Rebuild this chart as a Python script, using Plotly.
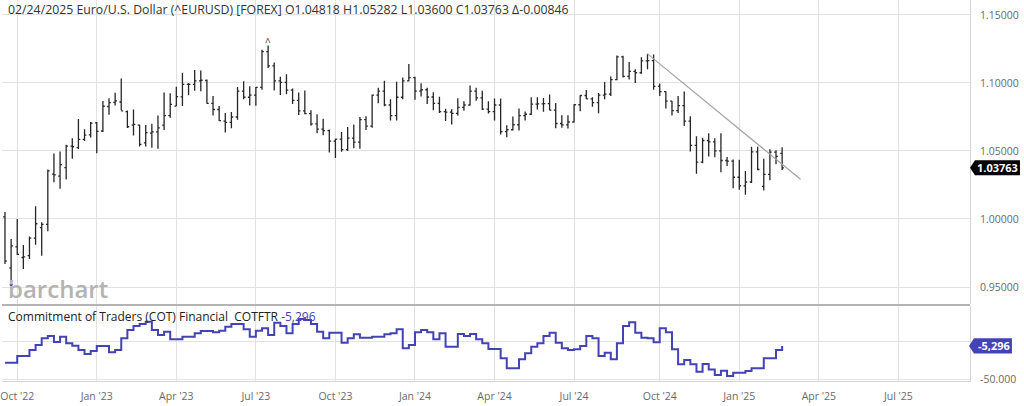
import plotly.graph_objects as go
import pandas as pd

# ---------------- data (weekly bars, week starting Monday) ----------------
first_week = "2022-09-19"

opens = [1.0016, 0.9640, 0.9795, 0.9717, 0.9730, 0.9860, 0.9937, 0.9960, 1.0330, 1.0315,
         1.0378, 1.0535, 1.0525, 1.0586, 1.0619, 1.0707, 1.0647, 1.0827, 1.0858, 1.0860,
         1.0790, 1.0690, 1.0690, 1.0560, 1.0632, 1.0640, 1.0690, 1.0760, 1.0830, 1.0898,
         1.0990, 1.0990, 1.1015, 1.1018, 1.0850, 1.0805, 1.0720, 1.0710, 1.0750, 1.0940,
         1.0895, 1.0910, 1.0967, 1.1230, 1.1125, 1.1015, 1.1005, 1.0948, 1.0872, 1.0795,
         1.0775, 1.0700, 1.0660, 1.0650, 1.0573, 1.0587, 1.0510, 1.0595, 1.0565, 1.0730,
         1.0683, 1.0910, 1.0940, 1.0838, 1.0760, 1.0895, 1.1015, 1.1039, 1.0940, 1.0950,
         1.0897, 1.0850, 1.0790, 1.0785, 1.0776, 1.0820, 1.0838, 1.0940, 1.0890, 1.0808,
         1.0790, 1.0838, 1.0642, 1.0656, 1.0693, 1.0760, 1.0770, 1.0845, 1.0847, 1.0848,
         1.0801, 1.0702, 1.0692, 1.0713, 1.0840, 1.0908, 1.0883, 1.0855, 1.0910, 1.0918,
         1.1025, 1.1192, 1.1048, 1.1085, 1.1075, 1.1163, 1.1165, 1.0975, 1.0937, 1.0866,
         1.0797, 1.0833, 1.0720, 1.0541, 1.0418, 1.0577, 1.0567, 1.0501, 1.0430, 1.0425,
         1.0307, 1.0244, 1.0272, 1.0494, 1.0240, 1.0328, 1.0492, 1.04818]
highs = [1.0051, 0.9853, 0.9999, 0.9809, 0.9872, 1.0094, 0.9976, 1.0364, 1.0481, 1.0497,
         1.0545, 1.0594, 1.0736, 1.0659, 1.0713, 1.0713, 1.0868, 1.0887, 1.0929, 1.1033,
         1.0797, 1.0805, 1.0695, 1.0691, 1.0700, 1.0760, 1.0930, 1.0925, 1.0973, 1.1075,
         1.1000, 1.1095, 1.1092, 1.1025, 1.0904, 1.0830, 1.0780, 1.0787, 1.0970, 1.1012,
         1.0975, 1.0970, 1.1245, 1.1276, 1.1150, 1.1045, 1.1064, 1.0960, 1.0930, 1.0945,
         1.0800, 1.0770, 1.0737, 1.0658, 1.0590, 1.0640, 1.0677, 1.0695, 1.0750, 1.0755,
         1.0915, 1.0965, 1.1017, 1.0880, 1.1009, 1.1040, 1.1139, 1.1045, 1.0998, 1.0965,
         1.0932, 1.0898, 1.0811, 1.0806, 1.0888, 1.0865, 1.0982, 1.0965, 1.0942, 1.0865,
         1.0885, 1.0885, 1.0690, 1.0753, 1.0812, 1.0790, 1.0895, 1.0895, 1.0890, 1.0916,
         1.0852, 1.0762, 1.0762, 1.0844, 1.0910, 1.0948, 1.0895, 1.0927, 1.1008, 1.1048,
         1.1202, 1.1200, 1.1155, 1.1100, 1.1190, 1.1214, 1.1210, 1.0996, 1.0940, 1.0868,
         1.0905, 1.0937, 1.0755, 1.0609, 1.0597, 1.0630, 1.0594, 1.0630, 1.0456, 1.0437,
         1.0436, 1.0353, 1.0532, 1.0532, 1.0442, 1.0513, 1.0505, 1.05282]
lows = [0.9669, 0.9536, 0.9735, 0.9632, 0.9705, 0.9810, 0.9730, 0.9910, 1.0270, 1.0223,
        1.0290, 1.0443, 1.0515, 1.0573, 1.0600, 1.0483, 1.0640, 1.0766, 1.0835, 1.0800,
        1.0669, 1.0613, 1.0533, 1.0533, 1.0524, 1.0516, 1.0655, 1.0745, 1.0830, 1.0830,
        1.0910, 1.0943, 1.0940, 1.0847, 1.0760, 1.0720, 1.0635, 1.0667, 1.0730, 1.0880,
        1.0835, 1.0833, 1.0950, 1.1110, 1.0944, 1.0912, 1.0917, 1.0845, 1.0765, 1.0770,
        1.0686, 1.0631, 1.0615, 1.0488, 1.0448, 1.0495, 1.0500, 1.0520, 1.0516, 1.0655,
        1.0670, 1.0850, 1.0829, 1.0724, 1.0725, 1.0880, 1.1013, 1.0877, 1.0900, 1.0845,
        1.0800, 1.0780, 1.0720, 1.0695, 1.0760, 1.0795, 1.0835, 1.0870, 1.0802, 1.0775,
        1.0725, 1.0622, 1.0601, 1.0651, 1.0650, 1.0725, 1.0765, 1.0805, 1.0788, 1.0800,
        1.0668, 1.0670, 1.0666, 1.0710, 1.0792, 1.0882, 1.0825, 1.0777, 1.0880, 1.0905,
        1.1020, 1.1040, 1.1025, 1.1000, 1.1068, 1.1100, 1.0950, 1.0905, 1.0812, 1.0760,
        1.0780, 1.0683, 1.0497, 1.0333, 1.0410, 1.0460, 1.0453, 1.0343, 1.0389, 1.0226,
        1.0215, 1.0178, 1.0265, 1.0359, 1.0210, 1.0285, 1.0402, 1.03600]
closes = [0.9690, 0.9802, 0.9740, 0.9722, 0.9860, 0.9965, 0.9960, 1.0354, 1.0325, 1.0400,
          1.0535, 1.0531, 1.0585, 1.0616, 1.0705, 1.0644, 1.0829, 1.0856, 1.0868, 1.0795,
          1.0678, 1.0695, 1.0548, 1.0635, 1.0640, 1.0670, 1.0760, 1.0842, 1.0900, 1.0990,
          1.0990, 1.1015, 1.1020, 1.0850, 1.0805, 1.0723, 1.0710, 1.0750, 1.0940, 1.0895,
          1.0910, 1.0967, 1.1230, 1.1125, 1.1015, 1.1005, 1.0948, 1.0872, 1.0795, 1.0775,
          1.0700, 1.0660, 1.0650, 1.0573, 1.0587, 1.0510, 1.0595, 1.0565, 1.0730, 1.0683,
          1.0910, 1.0940, 1.0838, 1.0760, 1.0895, 1.1015, 1.1039, 1.0940, 1.0950, 1.0897,
          1.0850, 1.0790, 1.0785, 1.0776, 1.0820, 1.0838, 1.0940, 1.0890, 1.0808, 1.0790,
          1.0838, 1.0642, 1.0656, 1.0693, 1.0760, 1.0770, 1.0845, 1.0847, 1.0848, 1.0801,
          1.0702, 1.0692, 1.0713, 1.0840, 1.0908, 1.0883, 1.0855, 1.0910, 1.0918, 1.1025,
          1.1192, 1.1048, 1.1085, 1.1075, 1.1163, 1.1165, 1.0975, 1.0937, 1.0866, 1.0797,
          1.0833, 1.0720, 1.0541, 1.0418, 1.0577, 1.0567, 1.0501, 1.0430, 1.0425, 1.0307,
          1.0244, 1.0272, 1.0494, 1.0364, 1.0328, 1.0492, 1.0460, 1.03763]

cot_net = [-28000, -28000, -19000, -19000, -10800, -4000, 5000, 8100, 0, 7200,
           -1800, -5000, -10800, -16200, -12200, -5400, -5400, -14000, -10800, 5000,
           16200, 21600, 24300, 27500, 16200, 9500, 14000, 3600, 3600, 7200,
           7200, 11700, 14900, 14900, 13100, 15300, 20700, 24300, 24300, 17100,
           7200, 15300, 18500, 9500, 26100, 21600, 11700, 24300, 31100, 29700,
           24300, 14000, 5000, 12600, 12600, -900, 5000, 10400, 5800, 5800,
           7200, 7200, 10400, 11700, 17100, -8500, -4000, 13100, 16200, 13100,
           3600, 11700, -6300, -6300, 10800, 8100, 10800, 3600, -1800, -9500,
           -9500, -22000, -35500, -35500, -23400, -15300, -6300, -1800, 8100, 12600,
           -900, -8500, -10800, -9900, -5400, 8100, 5000, -18900, -14500, -23400,
           -1800, 21600, 26600, 12600, 5800, 5000, -400, 18500, 13100, -9900,
           -30100, -24300, -30100, -40100, -29700, -37000, -44600, -38800, -45900, -41500,
           -41500, -39200, -35500, -35500, -22000, -22000, -10800, -5296]

trend_dates = ["2024-09-23", "2025-03-17"]
trend_values = [1.1214, 1.0292]

price_ticks = [0.95, 1.00, 1.05, 1.10, 1.15]
cot_ticks = [-50000, 0]
cot_tick_text = ["-50.000", ""]
quarter_labels = ["Oct '22", "Jan '23", "Apr '23", "Jul '23", "Oct '23", "Jan '24",
                  "Apr '24", "Jul '24", "Oct '24", "Jan '25", "Apr '25", "Jul '25"]
quarter_months = ["2022-10", "2023-01", "2023-04", "2023-07", "2023-10", "2024-01",
                  "2024-04", "2024-07", "2024-10", "2025-01", "2025-04", "2025-07"]

header = ("02/24/2025 Euro/U.S. Dollar (^EURUSD) [FOREX] O1.04818 H1.05282 "
          "L1.03600 C1.03763 \u0394-0.00846")
cot_title = "Commitment of Traders (COT) Financial\u00a0 COTFTR "
cot_last_text = "-5,296"

# ---------------- styling ----------------
FONT = "Open Sans"
COT_COLOR = "#4343b6"
GRID = "#e2e2e2"
AXIS_LINE = "#d6d6d6"
LABEL = "#6a6a6a"

dates = pd.date_range(first_week, periods=len(opens), freq="7D")

# first Monday of each quarter month -> tick positions (barchart style)
tick_dates = []
for m in quarter_months:
    d = pd.Timestamp(m + "-01")
    while d.weekday() != 0:
        d += pd.Timedelta(days=1)
    tick_dates.append(d)

price_range = [0.9375, 1.161]
cot_range = [-52700, 48650]
price_dom = [0.2021, 1.0]
cot_dom = [0.0, 0.1969]

fig = go.Figure()

fig.add_trace(go.Ohlc(
    x=dates, open=opens, high=highs, low=lows, close=closes,
    increasing=dict(line=dict(color="#262626", width=1.3)),
    decreasing=dict(line=dict(color="#262626", width=1.3)),
    tickwidth=0.3, xaxis="x", yaxis="y", hoverinfo="skip", showlegend=False))

fig.add_trace(go.Scatter(
    x=trend_dates, y=trend_values, mode="lines",
    line=dict(color="#a3a3a3", width=1.2), xaxis="x", yaxis="y",
    hoverinfo="skip", showlegend=False))

fig.add_trace(go.Scatter(
    x=dates, y=cot_net, mode="lines", line_shape="hv",
    line=dict(color=COT_COLOR, width=2), xaxis="x", yaxis="y2",
    hoverinfo="skip", showlegend=False))

fig.update_layout(
    width=1024, height=406,
    margin=dict(l=0, r=54, t=0, b=25),
    paper_bgcolor="white", plot_bgcolor="white",
    font=dict(family=FONT, color=LABEL, size=10.5),
    showlegend=False,
    xaxis=dict(
        domain=[0, 1], anchor="y2",
        range=["2022-09-15 14:00", "2025-09-26 22:00"],
        tickmode="array", tickvals=tick_dates, ticktext=quarter_labels,
        showgrid=True, gridcolor=GRID, gridwidth=1,
        ticks="outside", ticklen=5, tickcolor="rgba(0,0,0,0)",
        showline=True, linecolor=AXIS_LINE, linewidth=1,
        zeroline=False, ticklabeloverflow="allow",
        rangeslider=dict(visible=False),
        tickfont=dict(size=10.5, color=LABEL, family=FONT)),
    yaxis=dict(
        domain=price_dom, anchor="x", side="right", range=price_range,
        tickmode="array", tickvals=price_ticks, tickformat=".5f",
        showgrid=True, gridcolor=GRID, zeroline=False,
        ticks="outside", ticklen=7, tickcolor="rgba(0,0,0,0)",
        showline=True, linecolor=AXIS_LINE, linewidth=1,
        tickfont=dict(size=10.5, color=LABEL, family=FONT)),
    yaxis2=dict(
        domain=cot_dom, anchor="x", side="right", range=cot_range,
        tickmode="array", tickvals=cot_ticks, ticktext=cot_tick_text,
        showgrid=True, gridcolor=GRID, zeroline=False,
        ticks="outside", ticklen=7, tickcolor="rgba(0,0,0,0)",
        showline=True, linecolor=AXIS_LINE, linewidth=1,
        tickfont=dict(size=10.5, color=LABEL, family=FONT)),
)

# pane separator
fig.add_shape(type="line", xref="paper", yref="paper", x0=0, x1=1,
              y0=0.1995, y1=0.1995, line=dict(color="#b4b4b4", width=2))

# last-value tags on the right axis
last_close = closes[-1]
h = 0.0055
fig.add_shape(type="path", xref="paper", yref="y",
              path=(f"M 1.0,{last_close} L 1.00515,{last_close + h} L 1.0516,{last_close + h} "
                    f"L 1.0516,{last_close - h} L 1.00515,{last_close - h} Z"),
              fillcolor="#000000", line=dict(width=0))
fig.add_annotation(xref="paper", yref="y", x=1.0284, y=last_close,
                   text=f"{last_close:.5f}", showarrow=False, xanchor="center",
                   yanchor="middle",
                   font=dict(family=FONT, size=11, color="white", weight="bold"))

last_cot = cot_net[-1]
hc = 10400
fig.add_shape(type="path", xref="paper", yref="y2",
              path=(f"M 0.999,{last_cot} L 1.0041,{last_cot + hc} L 1.0433,{last_cot + hc} "
                    f"L 1.0433,{last_cot - hc} L 1.0041,{last_cot - hc} Z"),
              fillcolor=COT_COLOR, line=dict(width=0))
fig.add_annotation(xref="paper", yref="y2", x=1.0247, y=last_cot,
                   text=cot_last_text, showarrow=False, xanchor="center",
                   yanchor="middle",
                   font=dict(family=FONT, size=11, color="white", weight="bold"))

# header texts
fig.add_annotation(xref="paper", yref="paper", x=0.0041, y=0.9738, text=header,
                   showarrow=False, xanchor="left", yanchor="middle",
                   font=dict(family=FONT, size=12.3, color="#333333"))
fig.add_annotation(xref="paper", yref="paper", x=0.0041, y=0.1706,
                   text=cot_title + f"<span style='color:{COT_COLOR}'>{cot_last_text}</span>",
                   showarrow=False, xanchor="left", yanchor="middle",
                   font=dict(family=FONT, size=12, color="#222222"))

# watermark
fig.add_annotation(xref="paper", yref="paper", x=0.004, y=0.2415, text="barchart",
                   showarrow=False, xanchor="left", yanchor="middle",
                   font=dict(family=FONT, size=24, color="#b3b3b3", weight=600))

# highest-high / lowest-low markers
imax = highs.index(max(highs))
fig.add_annotation(xref="x", yref="y", x=dates[imax], y=highs[imax], text="^",
                   showarrow=False, xanchor="center", yanchor="bottom", yshift=-6,
                   font=dict(family=FONT, size=10, color="#333333"))
imin = lows.index(min(lows))
fig.add_annotation(xref="x", yref="y", x=dates[imin], y=lows[imin], text="\u02c7",
                   showarrow=False, xanchor="center", yanchor="top", yshift=2,
                   font=dict(family=FONT, size=10, color="#333333"))

fig.write_html("out.html")
